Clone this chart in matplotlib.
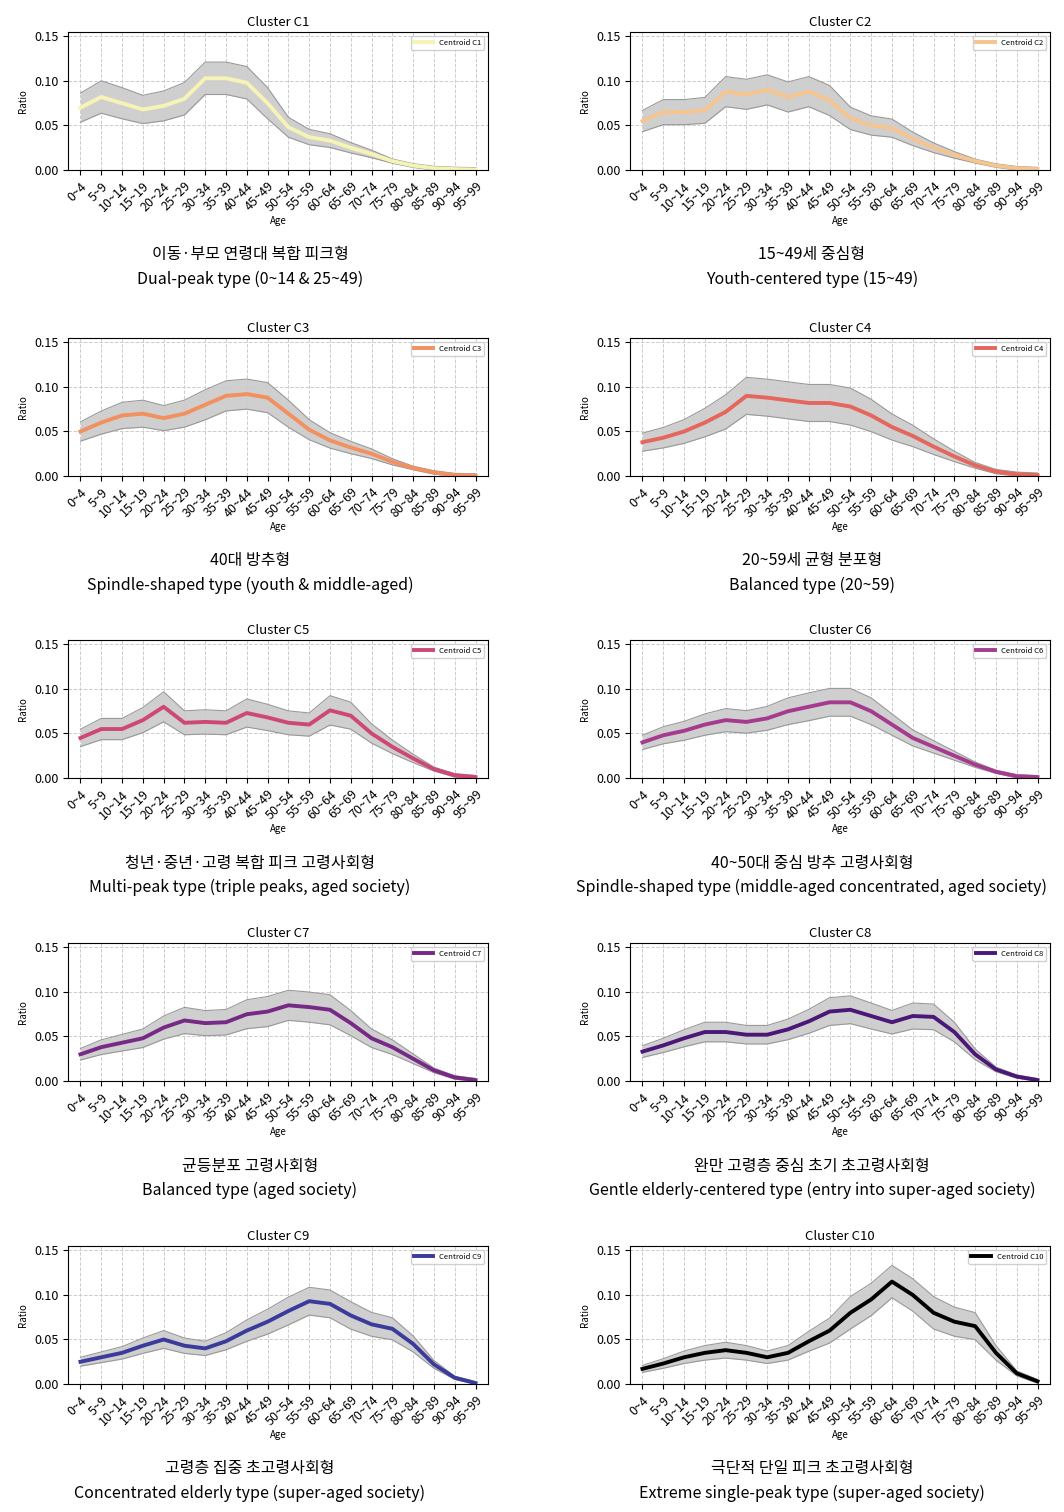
import numpy as np
import matplotlib.pyplot as plt

plt.rcParams['font.family'] = ['Noto Sans CJK KR', 'DejaVu Sans']

ages = ['0~4', '5~9', '10~14', '15~19', '20~24', '25~29', '30~34', '35~39', '40~44', '45~49',
        '50~54', '55~59', '60~64', '65~69', '70~74', '75~79', '80~84', '85~89', '90~94', '95~99']

c1 = [0.070, 0.082, 0.075, 0.068, 0.072, 0.080, 0.103, 0.103, 0.098, 0.075, 0.048, 0.037, 0.033, 0.025, 0.018, 0.010, 0.005, 0.002, 0.001, 0.0005]
c2 = [0.055, 0.065, 0.065, 0.067, 0.088, 0.085, 0.090, 0.082, 0.088, 0.078, 0.058, 0.050, 0.047, 0.035, 0.025, 0.017, 0.010, 0.005, 0.002, 0.001]
c3 = [0.050, 0.060, 0.068, 0.070, 0.065, 0.070, 0.080, 0.090, 0.092, 0.088, 0.070, 0.052, 0.040, 0.032, 0.025, 0.016, 0.009, 0.004, 0.001, 0.0005]
c4 = [0.038, 0.043, 0.050, 0.060, 0.072, 0.090, 0.088, 0.085, 0.082, 0.082, 0.078, 0.068, 0.055, 0.045, 0.033, 0.022, 0.012, 0.005, 0.002, 0.001]
c5 = [0.045, 0.055, 0.055, 0.065, 0.080, 0.062, 0.063, 0.062, 0.073, 0.068, 0.062, 0.060, 0.076, 0.070, 0.050, 0.035, 0.022, 0.010, 0.003, 0.001]
c6 = [0.040, 0.048, 0.053, 0.060, 0.065, 0.063, 0.067, 0.075, 0.080, 0.085, 0.085, 0.075, 0.060, 0.045, 0.035, 0.025, 0.015, 0.007, 0.002, 0.001]
c7 = [0.030, 0.038, 0.043, 0.048, 0.060, 0.068, 0.065, 0.066, 0.075, 0.078, 0.085, 0.083, 0.080, 0.065, 0.048, 0.038, 0.025, 0.012, 0.004, 0.001]
c8 = [0.033, 0.040, 0.048, 0.055, 0.055, 0.052, 0.052, 0.058, 0.067, 0.078, 0.080, 0.073, 0.066, 0.073, 0.072, 0.055, 0.030, 0.013, 0.005, 0.001]
c9 = [0.025, 0.030, 0.035, 0.043, 0.050, 0.043, 0.040, 0.048, 0.060, 0.070, 0.082, 0.093, 0.090, 0.077, 0.067, 0.062, 0.045, 0.022, 0.007, 0.001]
c10 = [0.017, 0.023, 0.030, 0.035, 0.038, 0.035, 0.030, 0.035, 0.048, 0.060, 0.080, 0.095, 0.115, 0.100, 0.080, 0.070, 0.065, 0.035, 0.012, 0.003]
centroids = [c1, c2, c3, c4, c5, c6, c7, c8, c9, c10]

# rough width of the grey member-line spread around each centroid
spread = [0.014, 0.013, 0.013, 0.016, 0.013, 0.012, 0.013, 0.012, 0.012, 0.014]

colors = ['#f6f4b4', '#f6c48e', '#f3905f', '#e4665c', '#cd4877', '#a53b8f',
          '#762a86', '#4b1878', '#3b3b9c', '#000000']

titles_ko = ['이동·부모 연령대 복합 피크형', '15~49세 중심형', '40대 방추형', '20~59세 균형 분포형',
             '청년·중년·고령 복합 피크 고령사회형', '40~50대 중심 방추 고령사회형',
             '균등분포 고령사회형', '완만 고령층 중심 초기 초고령사회형',
             '고령층 집중 초고령사회형', '극단적 단일 피크 초고령사회형']
titles_en = ['Dual-peak type (0~14 & 25~49)', 'Youth-centered type (15~49)',
             'Spindle-shaped type (youth & middle-aged)', 'Balanced type (20~59)',
             'Multi-peak type (triple peaks, aged society)',
             'Spindle-shaped type (middle-aged concentrated, aged society)',
             'Balanced type (aged society)',
             'Gentle elderly-centered type (entry into super-aged society)',
             'Concentrated elderly type (super-aged society)',
             'Extreme single-peak type (super-aged society)']

fig = plt.figure(figsize=(10.64, 15.12), dpi=100)
W, H = 1064, 1512
tops = [32, 338, 640, 943, 1246]
lefts = [68, 630]
aw, ah = 420, 138
x = np.arange(len(ages))

for i, c in enumerate(centroids):
    r, col = divmod(i, 2)
    ax = fig.add_axes([lefts[col] / W, 1 - (tops[r] + ah) / H, aw / W, ah / H])
    c = np.array(c)
    s = spread[i] * np.clip(c / 0.06, 0.15, 1.3)
    ax.fill_between(x, np.clip(c - s, 0, None), c + s, color='#b0b0b0', alpha=0.6, lw=0)
    ax.plot(x, c + s, color='#999999', lw=0.8)
    ax.plot(x, np.clip(c - s, 0, None), color='#999999', lw=0.8)
    ax.plot(x, c, color=colors[i], lw=2.8, label=f'Centroid C{i + 1}')
    ax.set_xlim(-0.6, 19.6)
    ax.set_ylim(0, 0.155)
    ax.set_yticks([0, 0.05, 0.10, 0.15])
    ax.set_yticklabels(['0.00', '0.05', '0.10', '0.15'], fontsize=9)
    ax.set_xticks(x)
    ax.set_xticklabels(ages, rotation=45, ha='right', rotation_mode='anchor', fontsize=9)
    ax.grid(True, ls='--', color='#cccccc', lw=0.7)
    ax.set_title(f'Cluster C{i + 1}', fontsize=9.5, pad=4)
    ax.set_ylabel('Ratio', fontsize=7)
    ax.set_xlabel('Age', fontsize=7, labelpad=2)
    ax.legend(loc='upper right', fontsize=5.5, handlelength=2.5, framealpha=0.9)
    cx = (lefts[col] + aw / 2 - 28) / W
    fig.text(cx, 1 - (tops[r] + 223) / H, titles_ko[i], ha='center', va='center', fontsize=11.5)
    fig.text(cx, 1 - (tops[r] + 247) / H, titles_en[i], ha='center', va='center', fontsize=11.5)

fig.savefig('out.png', dpi=100)
